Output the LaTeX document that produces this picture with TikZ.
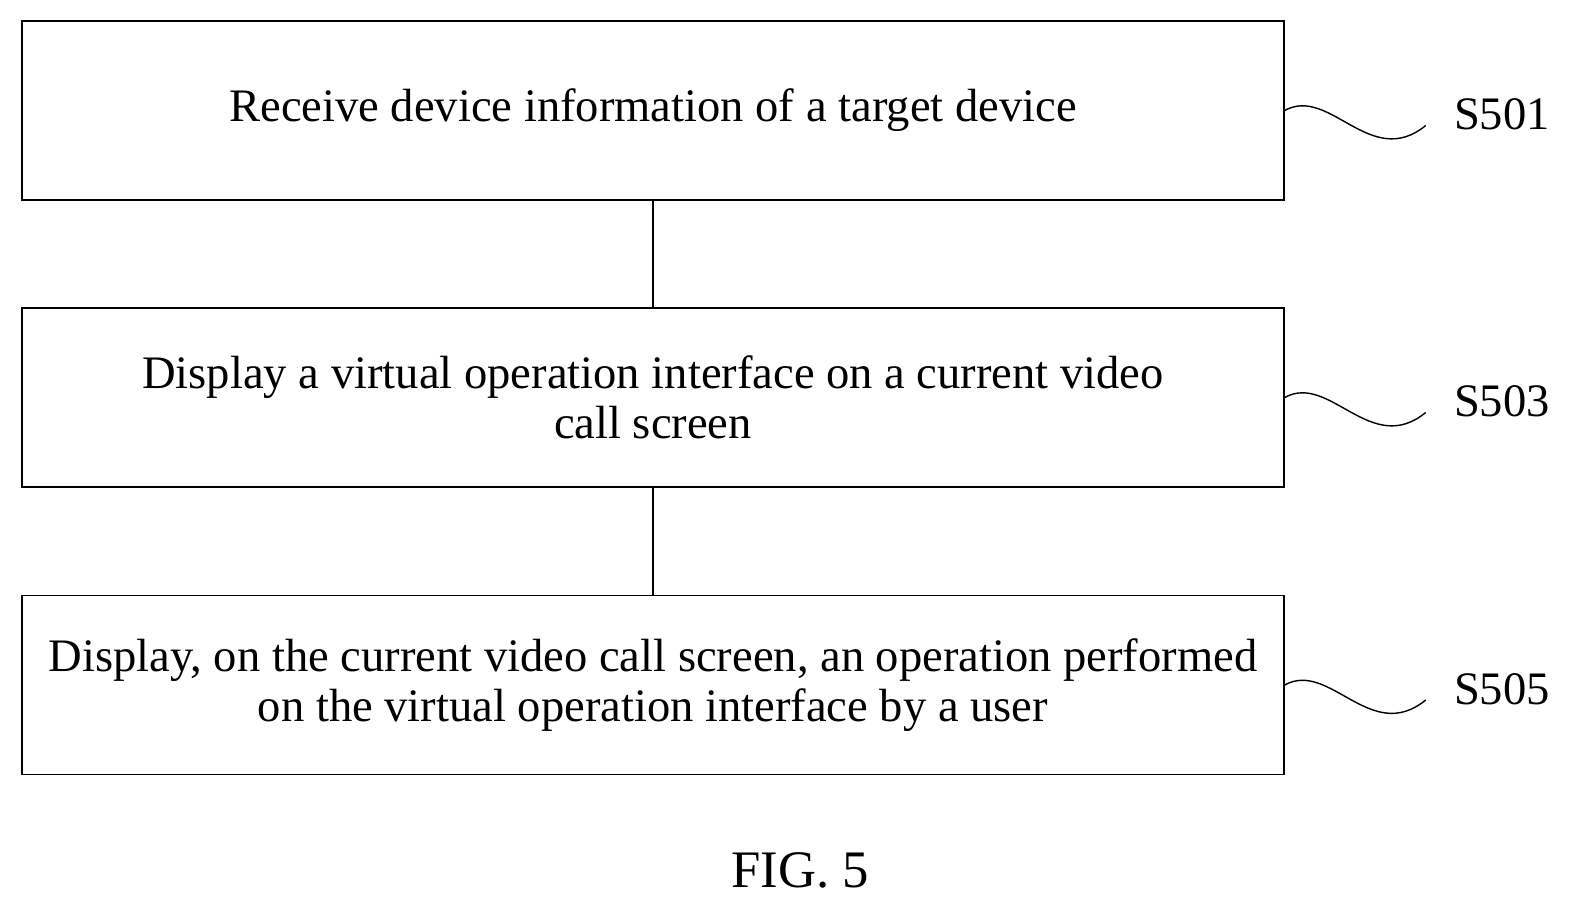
\documentclass[tikz,border=0pt]{standalone}
\usepackage{fontspec}
\setmainfont{Liberation Serif}
\usetikzlibrary{positioning}
\tikzset{
  stepbox/.style={draw, thick, minimum width=25.24cm, minimum height=3.58cm, align=center,
    font=\fontsize{26.5}{28.5}\selectfont, inner sep=2pt},
  steplabel/.style={anchor=west, font=\fontsize{26.5}{28.5}\selectfont, inner sep=0pt},
}
\begin{document}
\begin{tikzpicture}
\useasboundingbox (0,0) rectangle (31.4,18.26);
\node[stepbox] (s501) at (13.06,16.05) {Receive device information of a target device};
\node[stepbox] (s503) at (13.06,10.31) {Display a virtual operation interface on a current video\\call screen};
\node[stepbox] (s505) at (13.06,4.56) {Display, on the current video call screen, an operation performed\\on the virtual operation interface by a user};
\draw[thick] (s501) -- (s503);
\draw[thick] (s503) -- (s505);
\foreach \n in {501,503,505}{
  \coordinate (w\n) at ([xshift=2.82cm,yshift=-0.3cm]s\n.east);
  \draw[thick] (s\n.east) .. controls +(0.9,0.5) and +(-1.1,-0.9) .. (w\n);
  \node[steplabel] (l\n) at ([xshift=0.56cm,yshift=0.22cm]w\n) {S\n};
}
\node[font=\fontsize{30}{36}\selectfont] (fig) at (16,0.86) {FIG. 5};
\end{tikzpicture}
\end{document}
